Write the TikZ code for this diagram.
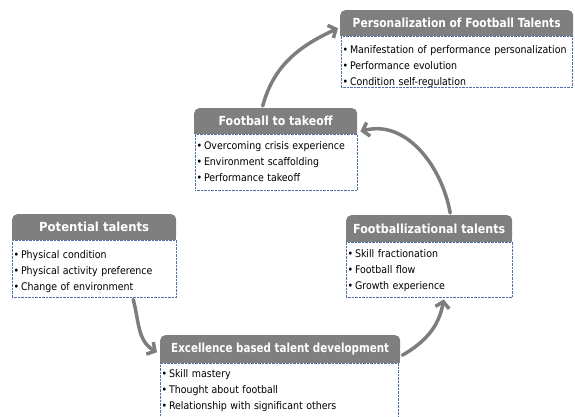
\documentclass[tikz,border=0pt]{standalone}
\usepackage{fontspec}
\setmainfont{DejaVu Sans Condensed}
\usetikzlibrary{arrows.meta}
\definecolor{hgray}{HTML}{7F7F7F}
\definecolor{agray}{HTML}{7D7D7D}
\definecolor{dotblue}{HTML}{4F6FA8}
\newcommand{\hdrfnt}{\fontsize{12.5}{14}\selectfont\bfseries}
\newcommand{\bodyfnt}{\fontsize{10.5}{16}\selectfont}
\newcommand{\hx}[2]{\resizebox{#1}{\height}{#2}}
\tikzset{
  hdr/.style={fill=hgray, rounded corners=5pt, text=white, font=\hdrfnt,
    minimum height=26pt, inner sep=0pt, anchor=north west},
  bdybox/.style={draw=dotblue, densely dotted, fill=white, anchor=north west,
    inner sep=0pt},
  bdytxt/.style={anchor=north west, align=left, inner sep=0pt,
    font=\bodyfnt, text=black},
  arr/.style={draw=agray, line width=3.5pt, line cap=round,
    -{Straight Barb[length=6pt,width=14pt]}},
}
\begin{document}
\begin{tikzpicture}[x=1pt,y=-1pt]
\useasboundingbox (0,0) rectangle (575,416);
% Personalization
\node[hdr, minimum width=233pt] (h1) at (340,10) {};
\fill[hgray] (h1.west) rectangle (h1.south east);
\node[text=white, font=\hdrfnt, inner sep=0pt] (l1) at (h1.center) {\hx{208pt}{Personalization of Football Talents}};
\node[bdybox, minimum width=231pt, minimum height=51pt] (b1) at (341,36) {};
\node[bdytxt, text width=228pt] (t1) at ([xshift=1.5pt,yshift=-9.5pt]b1.north west)
  {•\,Manifestation of performance personalization\\•\,Performance evolution\\•\,Condition self-regulation};
% Football to takeoff
\node[hdr, minimum width=163pt] (h2) at (194,108) {};
\fill[hgray] (h2.west) rectangle (h2.south east);
\node[text=white, font=\hdrfnt, inner sep=0pt] (l2) at (h2.center) {\hx{114pt}{Football to takeoff}};
\node[bdybox, minimum width=162pt, minimum height=56pt] (b2) at (195,134) {};
\node[bdytxt, text width=158pt] (t2) at ([xshift=1.5pt,yshift=-7.5pt]b2.north west)
  {•\,Overcoming crisis experience\\•\,Environment scaffolding\\•\,Performance takeoff};
% Potential talents
\node[hdr, minimum width=164pt] (h3) at (12,214) {};
\fill[hgray] (h3.west) rectangle (h3.south east);
\node[text=white, font=\hdrfnt, inner sep=0pt] (l3) at (h3.center) {\hx{110pt}{Potential talents}};
\node[bdybox, minimum width=164pt, minimum height=57pt] (b3) at (12,240) {};
\node[bdytxt, text width=160pt] (t3) at ([xshift=1.5pt,yshift=-10pt]b3.north west)
  {•\,Physical condition\\•\,Physical activity preference\\•\,Change of environment};
% Excellence
\node[hdr, minimum width=240pt, minimum height=28pt] (h4) at (160,335) {};
\fill[hgray] (h4.west) rectangle (h4.south east);
\node[text=white, font=\hdrfnt, inner sep=0pt] (l4) at (h4.center) {\hx{218pt}{Excellence based talent development}};
\node[bdybox, minimum width=238pt, minimum height=60pt] (b4) at (160,363) {};
\node[bdytxt, text width=234pt] (t4) at ([xshift=1.5pt,yshift=-6.5pt]b4.north west)
  {•\,Skill mastery\\•\,Thought about football\\•\,Relationship with significant others};
% Footballizational
\node[hdr, minimum width=166pt, minimum height=27pt] (h5) at (346,215) {};
\fill[hgray] (h5.west) rectangle (h5.south east);
\node[text=white, font=\hdrfnt, inner sep=0pt] (l5) at (h5.center) {\hx{152pt}{Footballizational talents}};
\node[bdybox, minimum width=166pt, minimum height=55pt] (b5) at (346,242) {};
\node[bdytxt, text width=162pt] (t5) at ([xshift=1.5pt,yshift=-7.5pt]b5.north west)
  {•\,Skill fractionation\\•\,Football flow\\•\,Growth experience};
% arrows
\draw[arr] ([xshift=39pt,yshift=-2pt]b3.south) to[out=-75,in=150] ([xshift=-3pt,yshift=-3pt]h4.west);
\draw[arr] ([xshift=2pt,yshift=-6pt]h4.east) to[out=30,in=-100] ([xshift=14.5pt,yshift=-2pt]b5.south);
\draw[arr] ([xshift=21pt,yshift=2pt]h5.north) to[out=100,in=15] ([xshift=3pt,yshift=3pt]h2.south east);
\draw[arr] ([xshift=-13pt,yshift=2pt]h2.north) to[out=75,in=205] ([xshift=-2pt,yshift=-5pt]h1.west);
\end{tikzpicture}
\end{document}
